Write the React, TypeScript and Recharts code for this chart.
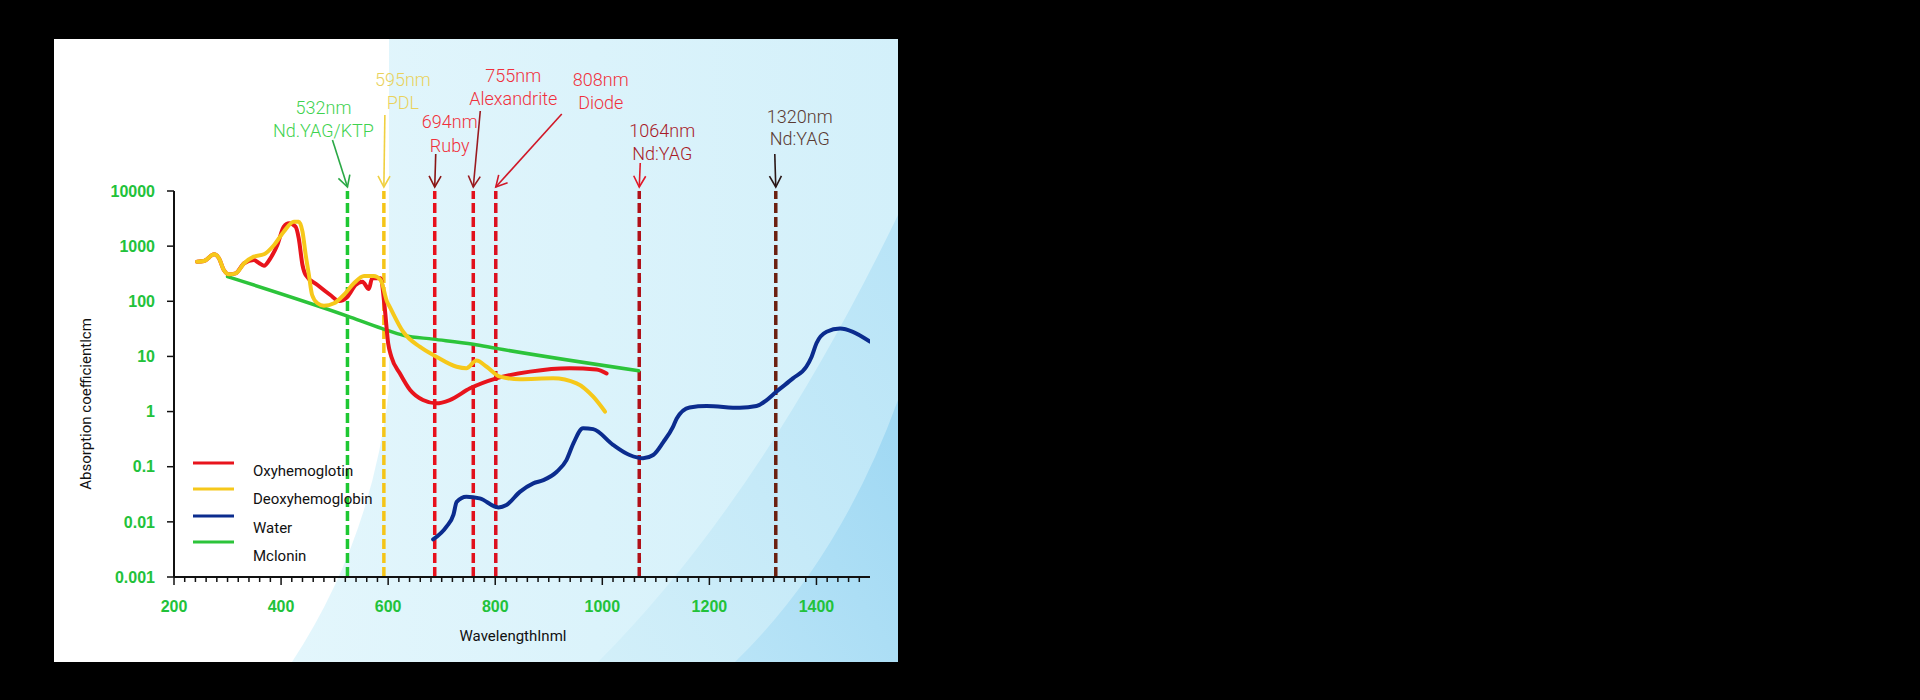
import React from 'react';
import { LineChart, Line, XAxis, YAxis, ReferenceLine, Legend } from 'recharts';

// ---------- data ----------
const oxyNm = [243, 256, 275, 284, 293, 303, 315, 331, 349, 358, 368, 380, 393, 405, 415, 427, 433, 440, 446, 468, 492, 508, 524, 539, 552, 564, 570, 586, 594, 600, 606, 622, 641, 665, 690, 715, 753, 802, 865, 939, 989, 1008];
const oxyAbs = [522, 537, 711, 602, 369, 308, 321, 489, 561, 500, 442, 602, 1050, 2255, 2590, 2255, 1387, 455, 300, 197, 130, 101, 121, 197, 226, 167, 261, 261, 69.5, 17.3, 9.9, 4.9, 2.46, 1.62, 1.41, 1.62, 2.64, 4.0, 5.3, 6.1, 5.8, 4.9];

const deoxyNm = [243, 256, 275, 284, 293, 303, 315, 331, 349, 368, 387, 405, 424, 433, 440, 446, 452, 458, 468, 480, 499, 517, 536, 555, 573, 586, 598, 603, 628, 659, 690, 728, 746, 765, 784, 809, 846, 908, 952, 983, 1005];
const deoxyAbs = [522, 537, 711, 602, 369, 308, 321, 489, 644, 711, 1050, 1830, 2775, 2775, 1830, 690, 300, 130, 92, 83, 92, 130, 212, 287, 287, 243, 98, 79, 28, 15, 9.9, 6.5, 6.1, 8.4, 6.5, 4.3, 3.85, 4.0, 3.25, 1.86, 1.0];

const waterNm = [684, 709, 722, 728, 746, 771, 806, 821, 846, 871, 890, 915, 933, 946, 964, 983, 1020, 1051, 1076, 1095, 1114, 1132, 1139, 1163, 1195, 1257, 1288, 1307, 1325, 1356, 1381, 1391, 1400, 1419, 1444, 1468, 1500];
const waterAbs = [0.0048, 0.0082, 0.0135, 0.023, 0.0286, 0.0267, 0.0183, 0.0202, 0.035, 0.05, 0.057, 0.081, 0.132, 0.265, 0.5, 0.48, 0.25, 0.163, 0.142, 0.163, 0.28, 0.53, 0.75, 1.19, 1.26, 1.17, 1.26, 1.62, 2.29, 4.0, 6.5, 9.9, 17.3, 28, 32, 28, 18.5];

const melaninNm = [300, 524, 589, 630, 684, 759, 802, 1068];
const melaninAbs = [280, 54, 32, 24, 20.6, 16.6, 14, 5.5];

const seriesNames = ['Oxyhemoglotin', 'Deoxyhemoglobin', 'Water', 'Mclonin'];

const laserLineNm = [524, 592, 687, 759, 801, 1069, 1324];
const laserWavelengthLabels = ['532nm', '595nm', '694nm', '755nm', '808nm', '1064nm', '1320nm'];
const laserNames = ['Nd.YAG/KTP', 'PDL', 'Ruby', 'Alexandrite', 'Diode', 'Nd:YAG', 'Nd:YAG'];

const xTickLabels = [200, 400, 600, 800, 1000, 1200, 1400];
const yTickValues = [0.001, 0.01, 0.1, 1, 10, 100, 1000, 10000];
const yTickLabels = ['0.001', '0.01', '0.1', '1', '10', '100', '1000', '10000'];

// ---------- styles ----------
const seriesColors: Record<string, string> = {
  Oxyhemoglotin: '#e8141c',
  Deoxyhemoglobin: '#f6c81a',
  Water: '#0b2c8e',
  Mclonin: '#2cc43a',
};
const laserStyles = [
  { line: '#1ec832', arrow: '#2aa845', text: '#3fd24f', tdx: -24, t1: -83, t2: -60, tailDx: -15, tailDy: -51 },
  { line: '#f5c518', arrow: '#f0d040', text: '#e9d25c', tdx: 19, t1: -111, t2: -88, tailDx: 1, tailDy: -76 },
  { line: '#e8101c', arrow: '#8a1414', text: '#f0303c', tdx: 15, t1: -69, t2: -45, tailDx: 1, tailDy: -37 },
  { line: '#e2101c', arrow: '#9a1a20', text: '#f0303c', tdx: 40, t1: -115, t2: -92, tailDx: 7, tailDy: -80 },
  { line: '#dc1020', arrow: '#d01828', text: '#f0303c', tdx: 105, t1: -111, t2: -88, tailDx: 66, tailDy: -77 },
  { line: '#b01018', arrow: '#e01828', text: '#a81a28', tdx: 23, t1: -60, t2: -37, tailDx: 1, tailDy: -28 },
  { line: '#6b2010', arrow: '#2a1616', text: '#5a3a32', tdx: 24, t1: -74, t2: -52, tailDx: -1, tailDy: -37 },
];
const tickGreen = '#22c23a';
const annoFont = 'Roboto, "Noto Sans", sans-serif';

const toPoints = (xs: number[], ys: number[]) => xs.map((x, i) => ({ x, y: ys[i] }));
const oxyData = toPoints(oxyNm, oxyAbs);
const deoxyData = toPoints(deoxyNm, deoxyAbs);
const waterData = toPoints(waterNm, waterAbs);
const melaninData = toPoints(melaninNm, melaninAbs);

const xAllTicks: number[] = [];
for (let v = 200; v <= 1480; v += 20) xAllTicks.push(v);

const XTick = (props: any) => {
  const { x, y, payload } = props;
  const v = payload.value;
  const major = xTickLabels.includes(v);
  return (
    <g>
      <line x1={x} x2={x} y1={y} y2={y + (major ? 8 : 5)} stroke="#111" strokeWidth={1.5} />
      {major && (
        <text x={x} y={y + 29} textAnchor="middle" dy="0.35em" fill={tickGreen} fontSize={16} fontWeight={700} fontFamily='"Liberation Sans", Arial, sans-serif'>
          {v}
        </text>
      )}
    </g>
  );
};

const LaserLabel = (props: any) => {
  const { viewBox, idx } = props;
  if (!viewBox) return null;
  const s = laserStyles[idx];
  const lx = viewBox.x;
  const top = viewBox.y;
  const hx = lx;
  const hy = top - 4;
  const tx = lx + s.tailDx;
  const ty = top + s.tailDy;
  const dx = hx - tx;
  const dy = hy - ty;
  const len = Math.sqrt(dx * dx + dy * dy);
  const ux = dx / len;
  const uy = dy / len;
  const hl = 11;
  const hw = 6;
  const bx = hx - ux * hl;
  const by = hy - uy * hl;
  const px = -uy;
  const py = ux;
  return (
    <g>
      <line x1={tx} y1={ty} x2={hx} y2={hy} stroke={s.arrow} strokeWidth={1.6} />
      <polyline
        points={`${bx + px * hw},${by + py * hw} ${hx},${hy} ${bx - px * hw},${by - py * hw}`}
        fill="none"
        stroke={s.arrow}
        strokeWidth={1.6}
      />
      <text x={lx + s.tdx} y={top + s.t1} dy="0.35em" textAnchor="middle" fill={s.text} fontSize={18} fontWeight={300} fontFamily={annoFont}>
        {laserWavelengthLabels[idx]}
      </text>
      <text x={lx + s.tdx} y={top + s.t2} dy="0.35em" textAnchor="middle" fill={s.text} fontSize={18} fontWeight={300} fontFamily={annoFont}>
        {laserNames[idx]}
      </text>
    </g>
  );
};

const YTitle = (props: any) => {
  const cx = 86;
  const cy = 404;
  return (
    <text x={cx} y={cy} transform={`rotate(-90 ${cx} ${cy})`} textAnchor="middle" dy="0.35em" fill="#111" fontSize={15} fontFamily={annoFont}>
      Absorption coefficientlcm
    </text>
  );
};

const XTitle = (props: any) => {
  const vb = props.viewBox || { x: 174, y: 577, width: 696 };
  return (
    <text x={vb.x + vb.width / 2 - 9} y={vb.y + 59} textAnchor="middle" dy="0.35em" fill="#111" fontSize={15} fontFamily={annoFont}>
      WavelengthInml
    </text>
  );
};

const renderLegend = (props: any) => {
  const payload: any[] = props.payload || [];
  const ordered = seriesNames
    .map((n) => payload.find((p) => p.value === n))
    .filter(Boolean);
  const lineYs = [8, 34, 61, 87];
  const textYs = [16, 44, 73, 101];
  return (
    <svg width={260} height={115} style={{ display: 'block', overflow: 'visible' }}>
      {ordered.map((p: any, i: number) => (
        <g key={p.value}>
          <line x1={3} x2={44} y1={lineYs[i]} y2={lineYs[i]} stroke={p.color} strokeWidth={3} />
          <text x={63} y={textYs[i]} dy="0.35em" fill="#111" fontSize={15} fontFamily={annoFont}>
            {p.value}
          </text>
        </g>
      ))}
    </svg>
  );
};

const Background = () => (
  <svg width={1920} height={700} style={{ position: 'absolute', left: 0, top: 0 }}>
    <defs>
      <linearGradient id="bgA" x1="0" y1="0" x2="1" y2="0">
        <stop offset="0" stopColor="#e3f6fc" />
        <stop offset="1" stopColor="#d3f0fa" />
      </linearGradient>
      <linearGradient id="bgB" x1="0" y1="1" x2="1" y2="0">
        <stop offset="0" stopColor="#d2eff9" />
        <stop offset="1" stopColor="#b8e4f7" />
      </linearGradient>
      <linearGradient id="bgC" x1="0" y1="1" x2="1" y2="0">
        <stop offset="0" stopColor="#b9e4f7" />
        <stop offset="1" stopColor="#9fd8f3" />
      </linearGradient>
    </defs>
    <rect x={0} y={0} width={1920} height={700} fill="#000" />
    <rect x={54} y={39} width={844} height={623} fill="#ffffff" />
    <path d="M389,39 L898,39 L898,662 L292,662 Q372,540 389,390 Z" fill="url(#bgA)" />
    <path d="M598,662 Q760,500 898,215 L898,662 Z" fill="url(#bgB)" />
    <path d="M735,662 Q840,560 898,400 L898,662 Z" fill="url(#bgC)" />
  </svg>
);

export default function App() {
  return (
    <div style={{ position: 'absolute', left: 0, top: 0, width: 1920, height: 700, background: '#000' }}>
      <Background />
      <div style={{ position: 'absolute', left: 0, top: 0 }}>
        <LineChart width={900} height={700} margin={{ top: 191, right: 30, bottom: 63, left: 0 }}>
          <XAxis
            dataKey="x"
            type="number"
            domain={[200, 1500]}
            ticks={xAllTicks}
            interval={0}
            tick={<XTick />}
            tickLine={false}
            tickSize={0}
            tickMargin={0}
            height={60}
            axisLine={{ stroke: '#111', strokeWidth: 2 }}
            allowDataOverflow
            label={<XTitle />}
          />
          <XAxis
            xAxisId="top"
            orientation="top"
            dataKey="x"
            type="number"
            domain={[200, 1500]}
            height={0}
            tick={false}
            tickLine={false}
            axisLine={{ stroke: '#111', strokeWidth: 2 }}
          />
          <YAxis
            type="number"
            scale="log"
            domain={[0.001, 10000]}
            ticks={yTickValues}
            interval={0}
            allowDataOverflow
            width={174}
            tickSize={7}
            tickMargin={12}
            tickFormatter={(v: number) => yTickLabels[yTickValues.indexOf(v)] ?? String(v)}
            tick={{ fill: tickGreen, fontSize: 16, fontWeight: 700, fontFamily: '"Liberation Sans", Arial, sans-serif' }}
            tickLine={{ stroke: '#111', strokeWidth: 1.5 }}
            axisLine={{ stroke: '#111', strokeWidth: 2 }}
            label={<YTitle />}
          />
          <YAxis
            yAxisId="right"
            orientation="right"
            type="number"
            domain={[0, 1]}
            width={0}
            tick={false}
            tickLine={false}
            axisLine={{ stroke: '#111', strokeWidth: 2 }}
          />
          {laserLineNm.map((nm, i) => (
            <ReferenceLine
              key={'laser' + i}
              x={nm}
              stroke={laserStyles[i].line}
              strokeWidth={3.5}
              strokeDasharray="10 4"
              label={<LaserLabel idx={i} />}
            />
          ))}
          <Line data={waterData} dataKey="y" name="Water" type="monotone" stroke={seriesColors.Water} strokeWidth={4} dot={false} isAnimationActive={false} strokeLinecap="round" />
          <Line data={melaninData} dataKey="y" name="Mclonin" type="monotone" stroke={seriesColors.Mclonin} strokeWidth={3.5} dot={false} isAnimationActive={false} strokeLinecap="round" />
          <Line data={oxyData} dataKey="y" name="Oxyhemoglotin" type="monotone" stroke={seriesColors.Oxyhemoglotin} strokeWidth={4} dot={false} isAnimationActive={false} strokeLinecap="round" />
          <Line data={deoxyData} dataKey="y" name="Deoxyhemoglobin" type="monotone" stroke={seriesColors.Deoxyhemoglobin} strokeWidth={4} dot={false} isAnimationActive={false} strokeLinecap="round" />
          <Legend
            layout="vertical"
            align="center"
            verticalAlign="middle"
            wrapperStyle={{ left: 190, top: 455, width: 260, height: 115 }}
            content={renderLegend}
          />
        </LineChart>
      </div>
    </div>
  );
}
